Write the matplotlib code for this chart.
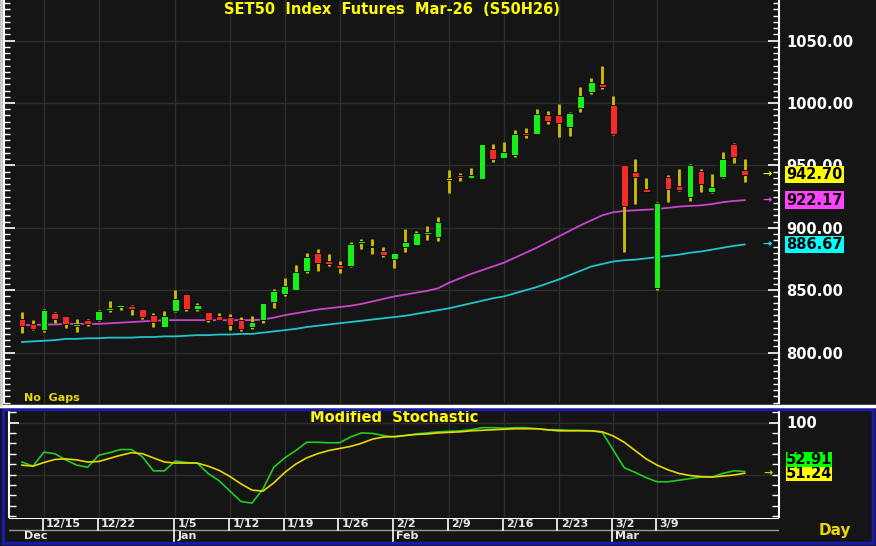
import matplotlib
matplotlib.use("Agg")
import matplotlib.pyplot as plt
import matplotlib.transforms as mtransforms
from matplotlib.patches import Rectangle
from matplotlib.lines import Line2D
import numpy as np

# ---- data ----
opens = [827, 823, 818, 832, 829.5, 821.5, 826, 826, 834.5, 837, 837.5, 835, 830, 820.5,
         833, 847, 835, 832.5, 829.5, 828.5, 826, 820.5, 826, 840.5, 847, 850, 865.5, 880,
         873, 870, 869.5, 888, 884.5, 881.5, 875, 884.5, 886, 895.5, 892.5, 939, 942, 940,
         939, 963, 956, 958.5, 976, 975, 990.5, 990.5, 981, 996, 1009, 1015, 998.5, 950.5,
         944.5, 931, 852, 940.5, 933.5, 924.5, 945.5, 928.5, 940.5, 967, 946]
highs = [832.5, 826, 835, 832.5, 829.5, 827, 827, 834, 841, 838, 838, 835, 831.5, 833,
         850, 847, 839.5, 832.5, 832, 831, 828.5, 829.5, 839.5, 851, 860, 870, 880, 883,
         879, 873.5, 888.5, 891, 891, 884.5, 880, 899, 897.5, 901.5, 908.5, 946, 944, 948,
         967, 967, 969, 978.5, 980, 995, 993.5, 999, 993, 1013, 1020, 1029.5, 1005.5, 950.5,
         955, 940, 920.5, 942, 947, 951, 947, 943, 960.5, 968, 955]
lows = [815.7, 818, 816.5, 824, 820, 816.5, 821, 825.5, 832.5, 834, 830, 827, 820.5, 820.5,
        832.5, 833, 833, 824.5, 826, 818, 817, 819, 824, 836, 845.5, 850, 864, 865.5,
        869.5, 864, 868.5, 883, 879, 876.5, 868, 881, 886, 890, 889.5, 928, 937.5, 940,
        939, 952.5, 956, 957, 972, 975, 983, 973, 973.5, 993, 1007, 1011, 974, 880.5,
        919, 928.5, 850, 920.5, 929.5, 921.5, 929, 928, 940, 952, 936.5]
closes = [821.3, 819, 834, 827, 823, 823, 823, 833.5, 835, 837.5, 835, 828.5, 824.5, 829.5,
          843, 835, 838, 826, 826, 822, 819, 824.5, 839.5, 849.5, 853.5, 864.5, 876.5, 872,
          871, 868, 887, 889, 885.5, 878, 880, 888.5, 896, 896, 904.5, 939, 941, 942.5,
          967, 955, 961, 975, 975, 991, 985.5, 984, 992, 1005.5, 1017, 1013, 975, 917.5,
          940.5, 928.5, 920, 931, 930.5, 950, 935, 932.5, 955, 957, 942.7]

ma_fast = [822, 822, 822.5, 822.5, 823, 823, 823, 823, 823.5, 824, 824.5, 825, 825.5, 826,
           826, 826, 826, 826, 826, 826, 826, 826, 826.5, 828, 830, 831.5, 833, 834.5,
           835.5, 836.5, 837.5, 839, 841, 843, 845, 846.5, 848, 849.5, 851.5, 856, 859.5, 863,
           866, 869, 872, 876, 880, 884, 888.5, 893, 897.5, 902, 906, 910, 912.5, 913.5,
           914, 914.5, 915, 916, 917, 917.5, 918, 919, 920.5, 921.5, 922.17]
ma_slow = [808.5, 809, 809.5, 810, 811, 811, 811.5, 811.5, 812, 812, 812, 812.5, 812.5, 813,
           813, 813.5, 814, 814, 814.5, 814.5, 815, 815, 816, 817, 818, 819, 820.5, 821.5,
           822.5, 823.5, 824.5, 825.5, 826.5, 827.5, 828.5, 829.5, 831, 832.5, 834, 835.5, 837.5, 839.5,
           841.5, 843.5, 845, 847.5, 850, 852.5, 855.5, 858.5, 862, 865.5, 869, 871, 873, 874,
           874.5, 875.5, 876.5, 877.5, 878.5, 880, 881, 882.5, 884, 885.5, 886.67]

stoch_k = [62, 58, 71.5, 70, 64, 59, 57, 68.5, 71, 74, 74, 67, 53.5, 53.5,
           63, 61.5, 61, 51, 44, 34, 24, 22.5, 36, 57, 66, 73, 81, 81,
           80.5, 80.5, 86, 90, 89.5, 87.5, 86, 87.5, 89, 90, 91, 91.5, 92, 93,
           95, 95, 94.5, 95, 95, 94, 93, 93, 92.5, 92.5, 92, 90.5, 73.5, 56.5,
           52, 47, 43, 43, 44.5, 46, 47.5, 47.5, 51, 53.5, 52.91]
stoch_d = [59, 58, 61.5, 64.5, 65, 64, 62, 62.5, 65.5, 68.5, 71, 70, 66, 62,
           61, 61, 61, 58, 54, 48, 41, 35, 34, 42, 52, 60, 66, 70,
           73, 75, 77, 80, 84, 86, 86.5, 87.5, 88.5, 89, 90, 90.5, 91, 92,
           92.5, 93, 93.5, 94, 94, 94, 93, 92, 92, 92, 92, 91, 87, 81,
           73, 65, 59, 54.5, 51, 49, 48, 47.5, 48.5, 49.5, 51.24]

week_idx = [2, 7, 14, 19, 24, 29, 34, 39, 44, 49, 54, 58]
week_labels = ["12/15", "12/22", "1/5", "1/12", "1/19", "1/26", "2/2", "2/9",
               "2/16", "2/23", "3/2", "3/9"]
month_idx = [0, 14, 34, 54]
month_labels = ["Dec", "Jan", "Feb", "Mar"]

# ---- layout helpers (pixel based) ----
W, H = 876, 546
BG = "#151515"
GRID = "#2e2e2e"
X0, DX = 22.0, 10.95  # pixel of first bar, pixels per bar


def fx(px):
    return px / W


def fy(py):
    return 1 - py / H


def xlim_for(left_px, right_px):
    return ((left_px - X0) / DX, (right_px - X0) / DX)


fig = plt.figure(figsize=(W / 100, H / 100), dpi=100, facecolor=BG)

# ---------- main price panel ----------
ax = fig.add_axes([fx(4), fy(403), (779 - 4) / W, 403 / H], facecolor=BG)
ax.set_xlim(*xlim_for(4, 779))
ax.set_ylim(1000 - (403 - 103) / 1.248, 1000 + 103 / 1.248)

for yv in [800, 850, 900, 950, 1000, 1050]:
    ax.axhline(yv, color=GRID, lw=1, zorder=0)
for wi in week_idx:
    ax.axvline(wi, color=GRID, lw=1, zorder=0)

x = np.arange(len(closes))
o = np.array(opens)
c = np.array(closes)
mid = (o + c) / 2
h = np.maximum(np.abs(c - o), 1.5)
cols = ["#e8d800" if cc == oo else ("#18ee18" if cc > oo else "#f52a2a")
        for oo, cc in zip(opens, closes)]
ax.plot(x, ma_slow, color="#22c4cc", lw=1.3, zorder=2)
ax.plot(x, ma_fast, color="#cc44cc", lw=1.3, zorder=2)
ax.vlines(x, lows, highs, color="#d2c000", lw=2, zorder=3)
ax.bar(x, h, bottom=mid - h / 2, width=0.62, color=cols,
       edgecolor="#000000", linewidth=0.6, zorder=4)

ax.yaxis.set_major_locator(plt.FixedLocator([800, 850, 900, 950, 1000, 1050]))
ax.yaxis.set_minor_locator(plt.MultipleLocator(5))
ax.yaxis.set_major_formatter(plt.FormatStrFormatter("%.2f"))
ax.tick_params(axis="y", which="both", direction="in", left=True, right=True,
               labelleft=False, labelright=True, colors="white")
ax.tick_params(axis="y", which="major", length=8, width=1.2, pad=5,
               labelsize=10.5)
ax.tick_params(axis="y", which="minor", length=4, width=1)
for lab in ax.get_yticklabels():
    lab.set_fontweight("bold")
ax.set_xticks([])
for s in ["left", "right"]:
    ax.spines[s].set_color("white")
    ax.spines[s].set_linewidth(1.5)
for s in ["top", "bottom"]:
    ax.spines[s].set_visible(False)

ax.text(0.5, 1 - 10 / 403, "SET50  Index  Futures  Mar-26  (S50H26)",
        transform=ax.transAxes, ha="center", va="center", color="#ffff00",
        fontsize=10.5, fontweight="bold")
fig.text(fx(24), fy(398), "No  Gaps", color="#e8d800",
         fontsize=8, fontweight="bold", va="center", ha="left")

# value boxes on right of price panel (the 942.70 box sits over 950.00, as in the original)
tr = mtransforms.blended_transform_factory(fig.transFigure, ax.transData)
for val, fc in [(closes[-1], "#ffff00"), (ma_fast[-1], "#ff44ff"),
                (ma_slow[-1], "#00ffff")]:
    ax.text(fx(767), val, "→", transform=tr, ha="center", va="center",
            color=fc, fontsize=8, fontweight="bold", clip_on=False)
    ax.text(fx(786), val, "%.2f" % val, transform=tr, ha="left", va="center",
            color="black", fontsize=10.5, fontweight="bold", clip_on=False,
            zorder=10, bbox=dict(boxstyle="square,pad=0.08", fc=fc, ec="none"))

# ---------- stochastic panel ----------
sx = fig.add_axes([fx(9), fy(517), (779 - 9) / W, (517 - 412) / H], facecolor=BG)
sx.set_xlim(*xlim_for(9, 779))
sx.set_ylim(100 - (517 - 422.5) / 1.04, 100 + (422.5 - 412) / 1.04)
for yv in [50, 100]:
    sx.axhline(yv, color=GRID, lw=1, zorder=0)
for wi in week_idx:
    sx.axvline(wi, color=GRID, lw=1, zorder=0)
sx.plot(x, stoch_d, color="#e6d800", lw=1.2, zorder=3)
sx.plot(x, stoch_k, color="#22cc22", lw=1.2, zorder=2)

sx.yaxis.set_major_locator(plt.FixedLocator([100]))
sx.yaxis.set_minor_locator(plt.MultipleLocator(10))
sx.yaxis.set_major_formatter(plt.FormatStrFormatter("%d"))
sx.tick_params(axis="y", which="both", direction="in", left=True, right=True,
               labelleft=False, labelright=True, colors="white")
sx.tick_params(axis="y", which="major", length=7, width=1.2, pad=5, labelsize=10.5)
sx.tick_params(axis="y", which="minor", length=5, width=1)
for lab in sx.get_yticklabels():
    lab.set_fontweight("bold")
sx.set_xticks([])
for s in ["left", "right"]:
    sx.spines[s].set_color("white")
    sx.spines[s].set_linewidth(1.5)
for s in ["top", "bottom"]:
    sx.spines[s].set_visible(False)

sx.text(0.5, 1 - 6 / 105, "Modified  Stochastic", transform=sx.transAxes,
        ha="center", va="center", color="#ffff00", fontsize=10.5,
        fontweight="bold")

str_ = mtransforms.blended_transform_factory(fig.transFigure, sx.transData)
sx.text(fx(768), stoch_d[-1], "→", transform=str_, ha="center", va="center",
        color="#c8d400", fontsize=8, fontweight="bold", clip_on=False)
sx.text(fx(786), stoch_d[-1], "%.2f" % stoch_d[-1], transform=str_, ha="left",
        va="center", color="black", fontsize=10.5, fontweight="bold",
        clip_on=False, bbox=dict(boxstyle="square,pad=0.0", fc="#ffff00", ec="none"))
sx.text(fx(786), stoch_d[-1] + 13, "%.2f" % stoch_k[-1], transform=str_,
        ha="left", va="center", color="black", fontsize=10.5, fontweight="bold",
        clip_on=False, bbox=dict(boxstyle="square,pad=0.0", fc="#00ff00", ec="none"))

# ---------- date axis ----------
dx = fig.add_axes([fx(9), fy(542), (779 - 9) / W, (542 - 518) / H], facecolor=BG)
dx.set_xlim(*xlim_for(9, 779))
dx.set_ylim(0, 2)
dx.axis("off")
dx.axhline(2, color="white", lw=1.5)
dx.axhline(1, color="#9a9a9a", lw=1)
for wi, lab in zip(week_idx, week_labels):
    ymin = 0 if wi in month_idx else 0.5
    dx.axvline(wi - 0.1, ymin=ymin, ymax=1, color="white", lw=1.2)
    dx.text(wi + 0.2, 1.5, lab, color="#e6e6e6", fontsize=8, fontweight="bold",
            ha="left", va="center")
for mi, lab in zip(month_idx, month_labels):
    dx.text(mi + 0.2, 0.5, lab, color="#e6e6e6", fontsize=8, fontweight="bold",
            ha="left", va="center")

fig.text(fx(835), fy(530), "Day", color="#e8d800", fontsize=11,
         fontweight="bold", ha="center", va="center")

# ---------- frames ----------
fig.add_artist(Line2D([0, 1], [fy(405.5), fy(405.5)], color="white", lw=2.5,
                      transform=fig.transFigure))
fig.add_artist(Rectangle((fx(3), fy(543)), fx(870), (543 - 409) / H,
                         transform=fig.transFigure, fill=False,
                         ec="#1a1aa8", lw=2.5))
fig.add_artist(Line2D([fx(1), fx(1)], [fy(405), 1], color="#d8d8d8", lw=2,
                      transform=fig.transFigure))

fig.savefig("out.png", dpi=100, facecolor=BG)
